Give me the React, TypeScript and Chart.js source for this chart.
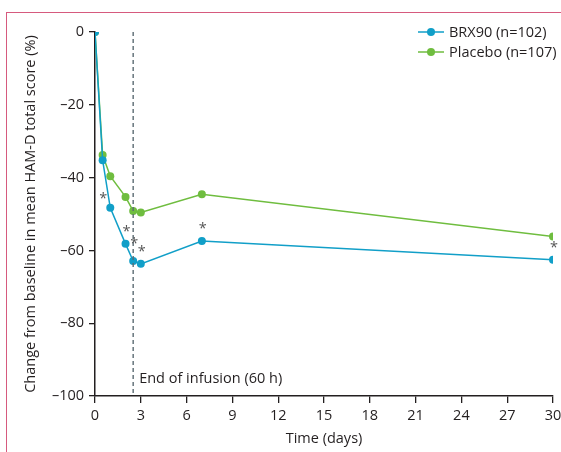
import React, { useEffect, useRef } from "react";
import { Chart, registerables } from "chart.js";

Chart.register(...registerables);

const days = [0, 0.5, 1, 2, 2.5, 3, 7, 30];
const brx90 = [0, -35.2, -48.3, -58.2, -62.9, -63.7, -57.4, -62.6];
const placebo = [0, -33.8, -39.6, -45.3, -49.2, -49.6, -44.6, -56.2];
const significant = [false, false, true, true, true, true, true, true];
const seriesLabels = ["BRX90 (n=102)", "Placebo (n=107)"];
const infusionEndDay = 2.5;
const infusionLabel = "End of infusion (60 h)";
const xTitle = "Time (days)";
const yTitle = "Change from baseline in mean HAM-D total score (%)";

const BLUE = "#119fc8";
const GREEN = "#6fbd3f";
const INK = "#231f20";
const FONT = "'Open Sans', 'Noto Sans', sans-serif";
const FS = 14.5;

const overlay = {
  id: "overlay",
  afterDatasetsDraw(chart: any) {
    const { ctx, scales, chartArea } = chart;
    const xs = scales.x;
    const ys = scales.y;
    ctx.save();
    const xv = xs.getPixelForValue(infusionEndDay);
    ctx.strokeStyle = "#5b6b73";
    ctx.lineWidth = 1.4;
    ctx.setLineDash([4, 3]);
    ctx.beginPath();
    ctx.moveTo(xv, chartArea.top);
    ctx.lineTo(xv, chartArea.bottom);
    ctx.stroke();
    ctx.setLineDash([]);
    ctx.fillStyle = INK;
    ctx.font = `${FS}px ${FONT}`;
    ctx.textAlign = "left";
    ctx.textBaseline = "middle";
    ctx.fillText(infusionLabel, xv + 6, chartArea.bottom - 17);
    ctx.fillStyle = "#555";
    ctx.textAlign = "center";
    significant.forEach((s, i) => {
      if (!s) return;
      const px = xs.getPixelForValue(days[i]);
      const py = ys.getPixelForValue(brx90[i]);
      if (i === 2) ctx.fillText("*", px - 7, py - 9);
      else if (i === 4) ctx.fillText("*", px + 1, py - 17);
      else ctx.fillText("*", px + 1, py - 12);
    });
    const colors = [BLUE, GREEN];
    const lx = chartArea.right - 135;
    colors.forEach((c, i) => {
      const ly = chartArea.top + i * 20;
      ctx.strokeStyle = c;
      ctx.lineWidth = 1.5;
      ctx.beginPath();
      ctx.moveTo(lx, ly);
      ctx.lineTo(lx + 26, ly);
      ctx.stroke();
      ctx.fillStyle = c;
      ctx.beginPath();
      ctx.arc(lx + 13, ly, 4, 0, Math.PI * 2);
      ctx.fill();
      ctx.fillStyle = INK;
      ctx.textAlign = "left";
      ctx.font = `${FS}px ${FONT}`;
      ctx.fillText(seriesLabels[i], lx + 31, ly + 1);
    });
    ctx.restore();
  },
};

export default function App() {
  const ref = useRef<HTMLCanvasElement>(null);
  useEffect(() => {
    if (!ref.current) return;
    const chart = new Chart(ref.current, {
      type: "line",
      data: {
        datasets: [
          {
            label: seriesLabels[0],
            data: days.map((d, i) => ({ x: d, y: brx90[i] })),
            borderColor: BLUE,
            backgroundColor: BLUE,
            borderWidth: 1.5,
            pointRadius: 4,
            pointBorderWidth: 0,
            tension: 0,
          },
          {
            label: seriesLabels[1],
            data: days.map((d, i) => ({ x: d, y: placebo[i] })),
            borderColor: GREEN,
            backgroundColor: GREEN,
            borderWidth: 1.5,
            pointRadius: 4,
            pointBorderWidth: 0,
            tension: 0,
          },
        ],
      },
      options: {
        animation: false,
        responsive: false,
        maintainAspectRatio: false,
        layout: { padding: { left: 22, right: 8, top: 32, bottom: 0 } },
        plugins: { legend: { display: false }, tooltip: { enabled: false } },
        scales: {
          x: {
            type: "linear",
            min: 0,
            max: 30,
            afterFit: (s: any) => {
              s.height = 56;
              s.paddingLeft = 0;
              s.paddingRight = 0;
            },
            ticks: {
              stepSize: 3,
              color: INK,
              font: { family: FONT, size: FS },
              padding: 4,
            },
            grid: {
              display: true,
              drawOnChartArea: false,
              drawTicks: true,
              tickLength: 7,
              color: INK,
              lineWidth: 1.3,
            },
            border: { display: true, color: INK, width: 1.5 },
            title: {
              display: true,
              text: xTitle,
              color: INK,
              font: { family: FONT, size: FS },
              padding: { top: 2, bottom: 4 },
            },
          },
          y: {
            min: -100,
            max: 0,
            afterFit: (s: any) => {
              s.width = 73;
              s.paddingTop = 0;
              s.paddingBottom = 0;
            },
            ticks: {
              stepSize: 20,
              color: INK,
              font: { family: FONT, size: FS },
              padding: 5,
              callback: (v: any) => (Number(v) < 0 ? "\u2013" + Math.abs(Number(v)) : String(v)),
            },
            grid: {
              display: true,
              drawOnChartArea: false,
              drawTicks: true,
              tickLength: 6,
              color: INK,
              lineWidth: 1.3,
            },
            border: { display: true, color: INK, width: 1.5 },
            title: {
              display: true,
              text: yTitle,
              color: INK,
              font: { family: FONT, size: FS },
              padding: { top: 0, bottom: 2 },
            },
          },
        },
      },
      plugins: [overlay],
    });
    return () => chart.destroy();
  }, []);
  return (
    <div style={{ position: "fixed", left: 0, top: 0, width: 561, height: 452, overflow: "hidden" }}>
      <div
        style={{
          position: "absolute",
          left: 6,
          top: 12,
          width: 600,
          height: 500,
          boxSizing: "border-box",
          borderTop: "1.5px solid #d65a7e",
          borderLeft: "1.5px solid #d65a7e",
        }}
      />
      <canvas ref={ref} width={561} height={452} style={{ position: "absolute", left: 0, top: 0 }} />
    </div>
  );
}
